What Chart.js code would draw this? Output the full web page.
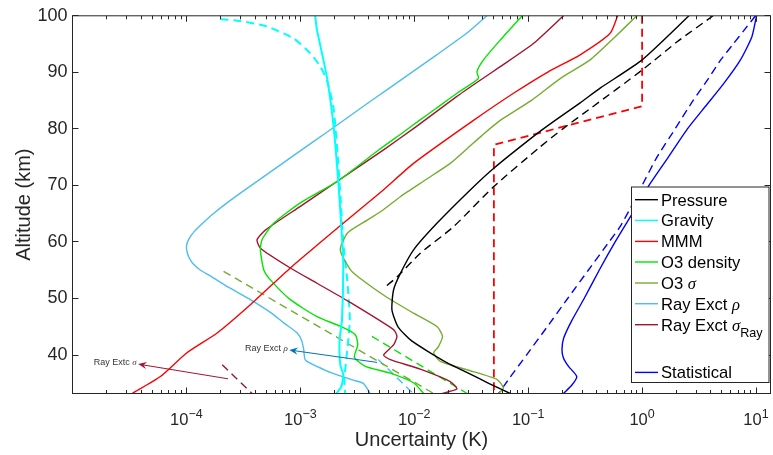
<!DOCTYPE html>
<html>
<head>
<meta charset="utf-8">
<script src="https://cdn.jsdelivr.net/npm/chart.js@4.4.1/dist/chart.umd.min.js"></script>
<style>
  html, body { margin: 0; padding: 0; background: #fff; }
  #wrap { width: 773px; height: 455px; position: relative; }
</style>
</head>
<body>
<div id="wrap"><canvas id="uncChart"></canvas></div>
<script>
// altitude (km) and uncertainty (K), top to bottom
const pressureAlt = [100, 92.2, 87.2, 84.6, 81.5, 78.9, 73.0, 69.2, 63.3, 58.6, 54.4, 51.5, 48.0, 45.0, 42.5, 40.4, 38.5, 36.9, 35.0, 33.2];
const pressureVal = [2.58, 1.0, 0.428, 0.286, 0.1725, 0.115, 0.0496, 0.031, 0.0158, 9.86e-3, 7.54e-3, 6.58e-3, 6.37e-3, 7.2e-3, 9.5e-3, 0.0138, 0.02, 0.0292, 0.045, 0.0695];
const pressureDashAlt = [100, 95.4, 90.4, 83.7, 80.1, 76.8, 69.75, 62.7, 58.0, 53.8, 51.8];
const pressureDashVal = [4.2, 2.03, 1.0, 0.357, 0.204, 0.127, 0.0496, 0.0221, 0.0113, 7.05e-3, 5.38e-3];

const gravityAlt = [100, 97.5, 89.2, 80.4, 69.8, 62.1, 56.3, 46.2, 42.7, 38.3, 36.5, 34.4, 33.2];
const gravityVal = [1.35e-3, 1.4e-3, 1.71e-3, 1.96e-3, 2.17e-3, 2.3e-3, 2.38e-3, 2.32e-3, 2.21e-3, 2.24e-3, 2.38e-3, 2.29e-3, 2.07e-3];
const gravityDashAlt = [99.4, 99.1, 98.1, 96.0, 93.4, 91.0, 88.6, 83.9, 75.7, 67.4, 59.2, 53.3, 46.2, 40.9, 35.5, 33.2];
const gravityDashVal = [1.99e-4, 2.98e-4, 5.1e-4, 8.73e-4, 1.22e-3, 1.5e-3, 1.71e-3, 1.95e-3, 2.12e-3, 2.26e-3, 2.4e-3, 2.58e-3, 2.72e-3, 2.58e-3, 2.43e-3, 2.48e-3];

const mmmAlt = [100, 96.9, 93.1, 90.1, 86.3, 81.5, 73.9, 69.2, 63.0, 55.4, 48.9, 43.9, 40.4, 36.2, 33.2];
const mmmVal = [0.61, 0.524, 0.286, 0.15, 0.0743, 0.0331, 9.86e-3, 5.35e-3, 2.28e-3, 8.17e-4, 3.64e-4, 1.86e-4, 1.01e-4, 5.91e-5, 3.34e-5];
const mmmDashAlt = [100, 84.0, 77.2, 33.2];
const mmmDashVal = [1.0, 1.0, 0.05, 0.05];

const o3DensAlt = [100, 95.7, 92.2, 90.1, 88.9, 86.3, 83.6, 81.5, 79.5, 76.3, 70.7, 66.9, 63.3, 60.4, 58.6, 55.1, 53.3, 49.8, 46.8, 45.1, 43.6, 41.8, 39.6, 38.0, 36.8, 35.1, 33.2];
const o3DensVal = [0.0886, 0.0568, 0.0405, 0.0355, 0.0366, 0.0237, 0.0155, 0.0111, 8.13e-3, 4.9e-3, 2.1e-3, 1.0e-3, 5.83e-4, 4.61e-4, 4.46e-4, 4.77e-4, 5.46e-4, 8.17e-4, 1.4e-3, 2.24e-3, 3.04e-3, 3.19e-3, 2.98e-3, 3.72e-3, 6.16e-3, 9.86e-3, 0.0121];
const o3DensDashAlt = [43.3, 33.2];
const o3DensDashVal = [4.25e-3, 0.0292];

const o3SigAlt = [100, 96.0, 92.2, 88.9, 85.0, 81.5, 78.9, 76.5, 73.9, 71.0, 68.0, 65.7, 63.9, 61.6, 58.6, 55.1, 53.8, 50.4, 47.4, 45.0, 43.3, 41.5, 40.4, 38.9, 37.4, 35.7, 34.2, 33.2];
const o3SigVal = [0.899, 0.56, 0.35, 0.191, 0.106, 0.0568, 0.0396, 0.0291, 0.0207, 0.0126, 7.54e-3, 5.36e-3, 3.9e-3, 2.6e-3, 2.24e-3, 2.75e-3, 3.23e-3, 5.57e-3, 9.86e-3, 0.0159, 0.0177, 0.0163, 0.0148, 0.0169, 0.029, 0.0531, 0.0607, 0.0549];
const o3SigDashAlt = [54.8, 33.2];
const o3SigDashVal = [2.12e-4, 0.0148];

const rayRhoAlt = [100, 97, 93, 90, 87, 84, 81, 78, 75, 72, 69, 67, 65, 63.5, 62, 60.5, 59.2, 58, 57, 56, 55, 54, 52, 49.8, 47.5, 45.7, 43.9, 42.5, 41.0, 39.1, 37.3, 36.8, 35.6, 35.0, 33.2];
const rayRhoVal = [0.0434, 0.0292, 0.0155, 9.5e-3, 5.83e-3, 3.58e-3, 2.21e-3, 1.36e-3, 8.34e-4, 5.13e-4, 3.15e-4, 2.3e-4, 1.72e-4, 1.42e-4, 1.19e-4, 1.05e-4, 1.0e-4, 1.02e-4, 1.07e-4, 1.16e-4, 1.33e-4, 1.62e-4, 2.33e-4, 3.64e-4, 5.5e-4, 7.14e-4, 9.4e-4, 1.03e-3, 1.07e-3, 1.11e-3, 1.66e-3, 1.91e-3, 2.86e-3, 3.57e-3, 4.11e-3];
const rayRhoDashAlt = [39.2, 33.2];
const rayRhoDashVal = [4.83e-3, 9.8e-3];

const raySigAlt = [100, 95.1, 91.0, 88.6, 85.7, 80.4, 76.3, 70.7, 66.3, 62.1, 60.4, 58.9, 55.4, 52.7, 49.5, 44.5, 43.3, 41.8, 40.0, 39.2, 37.5, 35.3, 34.0, 33.2];
const raySigVal = [0.204, 0.111, 0.0568, 0.0379, 0.0235, 0.0104, 5.38e-3, 2.1e-3, 1.0e-3, 4.93e-4, 4.17e-4, 4.46e-4, 8.17e-4, 1.4e-3, 2.64e-3, 6.58e-3, 7.05e-3, 6.58e-3, 5.38e-3, 6.16e-3, 0.0113, 0.0207, 0.0237, 0.0176];
const raySigDashAlt = [38.3, 33.2];
const raySigDashVal = [2.06e-4, 3.77e-4];

const statAlt = [100, 96.3, 92.2, 88, 84, 80, 75, 70, 65, 60, 55, 50, 46, 43, 41, 39.5, 38, 36.2, 34.7, 33.2];
const statVal = [10.1, 9.2, 7.3, 5.2, 3.6, 2.5, 1.7, 1.15, 0.82, 0.58, 0.42, 0.31, 0.24, 0.205, 0.198, 0.204, 0.226, 0.267, 0.242, 0.204];
const statDashAlt = [100, 97.5, 95, 92.2, 89, 85, 80, 75, 70, 66, 62.7, 60, 55, 50, 45, 40, 36, 33.2];
const statDashVal = [9.9, 7.9, 6.3, 4.9, 3.85, 2.8, 1.95, 1.35, 1.0, 0.79, 0.641, 0.512, 0.337, 0.222, 0.147, 0.0966, 0.069, 0.0549];

const yTicks = [40, 50, 60, 70, 80, 90, 100];
const xTickExps = [-4, -3, -2, -1, 0, 1];

// text arrows: [uncertainty, altitude] of tail and head
const noteParts = [[['Ray Extc '], ['σ', 'i']], [['Ray Exct '], ['ρ', 'i']]];
const noteTail = [[2.32e-4, 35.8], [4.71e-3, 38.7]];
const noteHead = [[3.77e-5, 38.4], [8.01e-4, 40.9]];
const noteColor = ['#A2142F', '#0072BD'];

const FONT = "'Liberation Sans', Arial, sans-serif";
const GREEK = "'Liberation Serif', 'Times New Roman', serif";
const AXIS = '#262626';
const DASH = [8, 5];

Chart.defaults.font.family = FONT;

function pts(vals, alts) {
    return vals.map((v, i) => ({ x: v, y: alts[i] }));
}

function line(label, vals, alts, color, extra) {
    return Object.assign({
        label: label,
        data: pts(vals, alts),
        borderColor: color,
        backgroundColor: color,
        borderWidth: 1.4,
        pointRadius: 0,
        pointHoverRadius: 0,
        showLine: true,
        fill: false,
        tension: 0.2
    }, extra || {});
}

const datasets = [
    line('Pressure', pressureVal, pressureAlt, '#000000', { legendParts: [['Pressure']], legendRow: 0 }),
    line('Gravity', gravityVal, gravityAlt, '#00FFFF', { borderWidth: 2, legendParts: [['Gravity']], legendRow: 1 }),
    line('MMM', mmmVal, mmmAlt, '#FF0000', { legendParts: [['MMM']], legendRow: 2 }),
    line('O3 density', o3DensVal, o3DensAlt, '#00E600', { legendParts: [['O3 density']], legendRow: 3 }),
    line('O3 sigma', o3SigVal, o3SigAlt, '#77AC30', { legendParts: [['O3 '], ['σ', 'i']], legendRow: 4 }),
    line('Ray Exct rho', rayRhoVal, rayRhoAlt, '#4DBEEE', { legendParts: [['Ray Exct '], ['ρ', 'i']], legendRow: 5 }),
    line('Ray Exct sigma', raySigVal, raySigAlt, '#A2142F', { legendParts: [['Ray Exct '], ['σ', 'i'], ['Ray', 's']], legendRow: 6 }),
    line('Statistical', statVal, statAlt, '#0000FF', { legendParts: [['Statistical']], legendRow: 8 }),
    line('Pressure 2', pressureDashVal, pressureDashAlt, '#000000', { borderDash: DASH }),
    line('Gravity 2', gravityDashVal, gravityDashAlt, '#00FFFF', { borderDash: DASH, borderWidth: 2 }),
    line('MMM 2', mmmDashVal, mmmDashAlt, '#FF0000', { borderDash: DASH, borderWidth: 1.8, tension: 0 }),
    line('O3 density 2', o3DensDashVal, o3DensDashAlt, '#00E600', { borderDash: DASH, tension: 0 }),
    line('O3 sigma 2', o3SigDashVal, o3SigDashAlt, '#77AC30', { borderDash: DASH, tension: 0 }),
    line('Ray Exct rho 2', rayRhoDashVal, rayRhoDashAlt, '#4DBEEE', { borderDash: DASH, tension: 0 }),
    line('Ray Exct sigma 2', raySigDashVal, raySigDashAlt, '#A2142F', { borderDash: DASH, tension: 0 }),
    line('Statistical 2', statDashVal, statDashAlt, '#0000FF', { borderDash: DASH })
];

// text made of [text, style] parts; style 'i' italic greek, 's' subscript
function partFont(style, size) {
    if (style === 'i') return 'italic ' + size + 'px ' + GREEK;
    if (style === 's') return (size * 0.76).toFixed(1) + 'px ' + FONT;
    return size + 'px ' + FONT;
}

function partsWidth(ctx, parts, size) {
    let w = 0;
    parts.forEach(p => {
        ctx.font = partFont(p[1], size);
        w += ctx.measureText(p[0]).width;
    });
    return w;
}

function drawParts(ctx, parts, x, y, size) {
    parts.forEach(p => {
        ctx.font = partFont(p[1], size);
        const dy = p[1] === 's' ? size * 0.36 : 0;
        ctx.fillText(p[0], x, y + dy);
        x += ctx.measureText(p[0]).width;
    });
}

function drawArrow(ctx, x0, y0, x1, y1, color) {
    const ang = Math.atan2(y1 - y0, x1 - x0);
    const c = Math.cos(ang), s = Math.sin(ang);
    const L = 8.5, W = 3.6, N = 5.5;
    ctx.strokeStyle = color;
    ctx.fillStyle = color;
    ctx.lineWidth = 1;
    ctx.beginPath();
    ctx.moveTo(x0, y0);
    ctx.lineTo(x1 - c * N, y1 - s * N);
    ctx.stroke();
    ctx.beginPath();
    ctx.moveTo(x1, y1);
    ctx.lineTo(x1 - c * L - s * W, y1 - s * L + c * W);
    ctx.lineTo(x1 - c * N, y1 - s * N);
    ctx.lineTo(x1 - c * L + s * W, y1 - s * L - c * W);
    ctx.closePath();
    ctx.fill();
}

const notesPlugin = {
    id: 'notes',
    afterDatasetsDraw(chart) {
        const { ctx, scales: { x, y } } = chart;
        ctx.save();
        noteParts.forEach((parts, i) => {
            const tx = x.getPixelForValue(noteTail[i][0]);
            const ty = y.getPixelForValue(noteTail[i][1]);
            const hx = x.getPixelForValue(noteHead[i][0]);
            const hy = y.getPixelForValue(noteHead[i][1]);
            drawArrow(ctx, tx, ty, hx, hy, noteColor[i]);
            ctx.fillStyle = '#333333';
            ctx.textBaseline = 'alphabetic';
            ctx.textAlign = 'left';
            const w = partsWidth(ctx, parts, 9);
            drawParts(ctx, parts, hx - 1.5 - w, hy + 1, 9);
        });
        ctx.restore();
    }
};

const framePlugin = {
    id: 'frame',
    afterDraw(chart) {
        const { ctx, chartArea: a, scales: { x, y } } = chart;
        ctx.save();
        ctx.strokeStyle = AXIS;
        ctx.lineWidth = 1;
        ctx.beginPath();
        yTicks.forEach(v => {
            const py = Math.round(y.getPixelForValue(v) - 0.5) + 0.5;
            ctx.moveTo(a.left, py); ctx.lineTo(a.left + 6, py);
            ctx.moveTo(a.right, py); ctx.lineTo(a.right - 6, py);
        });
        for (let d = -5; d <= 1; d++) {
            for (let m = 1; m <= 9; m++) {
                const v = m * Math.pow(10, d);
                if (v < x.min || v > x.max) continue;
                const px = Math.round(x.getPixelForValue(v) - 0.5) + 0.5;
                const len = m === 1 ? 6 : 3.5;
                ctx.moveTo(px, a.bottom); ctx.lineTo(px, a.bottom - len);
                ctx.moveTo(px, a.top); ctx.lineTo(px, a.top + len);
            }
        }
        ctx.stroke();
        ctx.strokeRect(a.left, a.top, a.right - a.left, a.bottom - a.top);

        // x tick labels: 10 with a raised exponent
        ctx.fillStyle = AXIS;
        ctx.textAlign = 'left';
        ctx.textBaseline = 'alphabetic';
        xTickExps.forEach(e => {
            const px = x.getPixelForValue(Math.pow(10, e));
            const expText = e < 0 ? '\u2212' + (-e) : String(e);
            ctx.font = '16.5px ' + FONT;
            const wb = ctx.measureText('10').width;
            ctx.font = '12.5px ' + FONT;
            const we = ctx.measureText(expText).width;
            const x0 = px - (wb + we) / 2;
            ctx.font = '16.5px ' + FONT;
            ctx.fillText('10', x0, a.bottom + 31);
            ctx.font = '12.5px ' + FONT;
            ctx.fillText(expText, x0 + wb, a.bottom + 24.5);
        });

        // axis titles
        ctx.font = '20px ' + FONT;
        ctx.textAlign = 'center';
        ctx.fillText('Uncertainty (K)', (a.left + a.right) / 2, 446);
        ctx.save();
        ctx.translate(30, (a.top + a.bottom) / 2);
        ctx.rotate(-Math.PI / 2);
        ctx.fillText('Altitude (km)', 0, 0);
        ctx.restore();

        // legend, with an empty row before Statistical
        const rowY = [12.7, 33.4, 54.4, 75, 96, 116.7, 137.7, 0, 185.4];
        const bx = a.right - 139, by = a.bottom - 206.5, bw = 137.5, bh = 195.5;
        ctx.fillStyle = '#ffffff';
        ctx.fillRect(bx, by, bw, bh);
        ctx.strokeStyle = AXIS;
        ctx.strokeRect(bx, by, bw, bh);
        ctx.textAlign = 'left';
        chart.data.datasets.forEach(ds => {
            if (!ds.legendParts) return;
            const cy = by + rowY[ds.legendRow];
            ctx.strokeStyle = ds.borderColor;
            ctx.lineWidth = 1.4;
            ctx.beginPath();
            ctx.moveTo(bx + 3.5, cy); ctx.lineTo(bx + 26.5, cy);
            ctx.stroke();
            ctx.fillStyle = '#000000';
            drawParts(ctx, ds.legendParts, bx + 29.5, cy + 5.9, 16.6);
        });
        ctx.restore();
    }
};

new Chart(document.getElementById('uncChart'), {
    type: 'scatter',
    data: { datasets: datasets },
    options: {
        responsive: true,
        maintainAspectRatio: false,
        animation: false,
        events: [],
        layout: { padding: { top: 15.5, right: 2.5, left: 0, bottom: 0 } },
        plugins: {
            legend: { display: false },
            tooltip: { enabled: false }
        },
        scales: {
            x: {
                type: 'logarithmic',
                min: 1e-5,
                max: 13.4,
                grid: { display: false, drawTicks: false },
                border: { display: false },
                ticks: { display: false },
                afterFit: s => { s.height = 61.5; }
            },
            y: {
                type: 'linear',
                min: 33.2,
                max: 100,
                grid: { display: false, drawTicks: false, tickLength: 0 },
                border: { display: false },
                afterBuildTicks: s => { s.ticks = yTicks.map(v => ({ value: v })); },
                ticks: {
                    color: AXIS,
                    padding: 5,
                    font: { size: 18 }
                },
                afterFit: s => { s.width = 72.5; }
            }
        }
    },
    plugins: [notesPlugin, framePlugin]
});
</script>
</body>
</html>
